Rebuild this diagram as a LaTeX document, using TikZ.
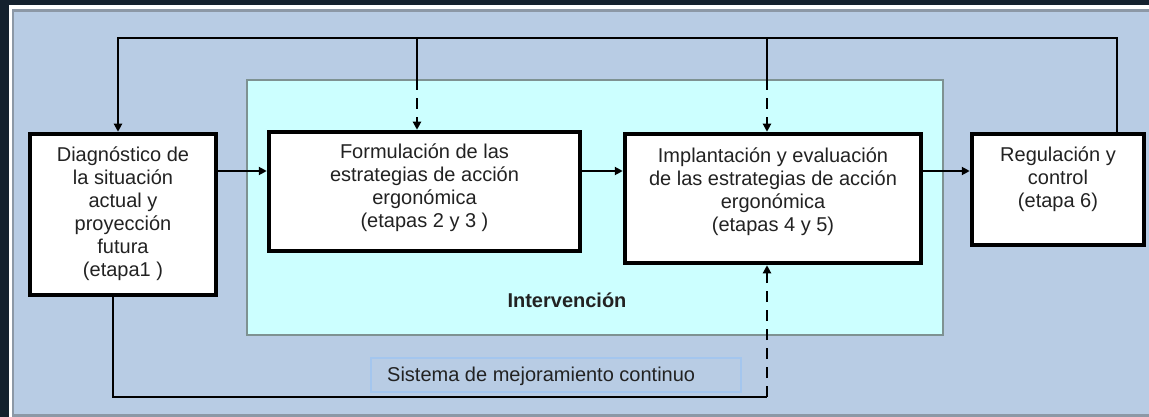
\documentclass[tikz,border=0pt]{standalone}
\usepackage{fontspec}
\setmainfont{Liberation Sans}
\usetikzlibrary{arrows.meta}
\definecolor{navy}{HTML}{14212E}
\definecolor{panel}{HTML}{B8CCE4}
\definecolor{panelgray}{HTML}{8C98A6}
\definecolor{cyanbg}{HTML}{CCFFFF}
\definecolor{cyanline}{HTML}{7E9292}
\definecolor{sisline}{HTML}{A4C6EE}
\definecolor{txt}{HTML}{222222}
\newcommand\boxtxt[2]{\raisebox{0pt}[\height][\dimexpr\depth+#1\relax]{\begin{tabular}{@{}c@{}}#2\end{tabular}}}
\begin{document}
\begin{tikzpicture}[x=1pt,y=-1pt,
  stagebox/.style={draw=black,fill=white,line width=4.5pt,inner sep=0pt,text=txt,
    font=\fontsize{20}{23}\selectfont},
  conn/.style={line width=2pt,draw=black},
  arr/.style={conn,-{Triangle[length=8pt,width=8pt]}},
  dsh/.style={dash pattern=on 11pt off 8pt}]
\useasboundingbox (0,0) rectangle (1149,417);
% frame
\fill[navy] (0,0) rectangle (1149,417);
\fill[white] (9,5) rectangle (1149,417);
\fill[panelgray] (12,9) rectangle (1149,417);
\fill[panel] (14,12) rectangle (1149,414);
% intervention area
\node[draw=cyanline,fill=cyanbg,line width=1.5pt,inner sep=0pt,minimum width=696pt,minimum height=255pt]
  (interv) at (595,207.5) {};
\node[font=\fontsize{20}{23}\selectfont\bfseries,text=txt] (intlabel) at (567,300) {Intervención};
% sistema box
\draw[sisline,line width=1.2pt] (371,358) rectangle (741,392);
\node[anchor=west,inner sep=0pt,font=\fontsize{20}{23}\selectfont,text=txt] (sis) at (387,376) {Sistema de mejoramiento continuo};
% stage boxes
\node[stagebox,minimum width=186pt,minimum height=161pt] (diag) at (123,214.5)
  {\boxtxt{0pt}{Diagnóstico de\\la situación\\actual y\\proyección\\futura\\(etapa1 )}};
\node[stagebox,minimum width=311pt,minimum height=119pt] (form) at (424.5,191.5)
  {\boxtxt{7pt}{Formulación de las\\estrategias de acción\\ergonómica\\(etapas 2 y 3 )}};
\node[stagebox,minimum width=296pt,minimum height=129pt] (impl) at (773,198.5)
  {\boxtxt{13pt}{Implantación y evaluación\\de las estrategias de acción\\ergonómica\\(etapas 4 y 5)}};
\node[stagebox,minimum width=172pt,minimum height=111pt] (reg) at (1058,189.5)
  {\boxtxt{19pt}{Regulación y\\control\\(etapa 6)}};
% coordinates
\coordinate (row) at (0,171);
\coordinate (tl) at (118,38);
\coordinate (tr) at (1117,38);
\coordinate (b1) at (417,38);
\coordinate (b2) at (767,38);
\coordinate (bl) at (113,397);
\coordinate (br) at (767,397);
% forward arrows
\draw[arr] (diag.east |- row) -- (form.west |- row);
\draw[arr] (form.east |- row) -- (impl.west |- row);
\draw[arr] (impl.east |- row) -- (reg.west |- row);
% top feedback
\draw[arr] (reg.north -| tr) -- (tr) -- (tl) -- (diag.north -| tl);
\draw[conn] (b1) -- (b1 |- interv.north);
\draw[arr,dsh] (b1 |- interv.north) -- (form.north -| b1);
\draw[conn] (b2) -- (b2 |- interv.north);
\draw[arr,dsh] (b2 |- interv.north) -- (impl.north -| b2);
% bottom loop
\draw[conn] (diag.south -| bl) -- (bl) -- (br);
\draw[arr,dsh] (br) -- (impl.south -| br);
\end{tikzpicture}
\end{document}
